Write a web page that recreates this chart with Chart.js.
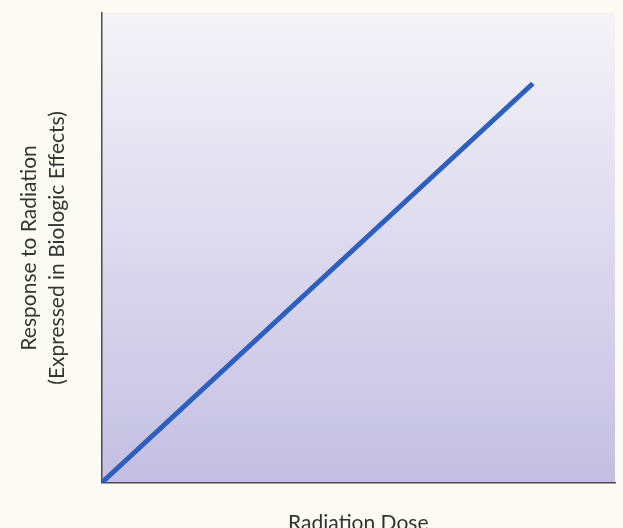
<!DOCTYPE html>
<html lang="en">
<head>
    <meta charset="UTF-8">
    <title>Radiation Dose-Response</title>
    <style>
        html, body {
            margin: 0;
            padding: 0;
            background: #fbfaf3;
            overflow: hidden;
        }
        #wrap {
            width: 623px;
            height: 528px;
            overflow: hidden;
        }
    </style>
</head>
<body>
    <div id="wrap">
        <canvas id="doseChart" width="623" height="540" style="width:623px;height:540px;display:block"></canvas>
    </div>

    <script src="https://cdn.jsdelivr.net/npm/chart.js"></script>
    <script>
        // dose (x) and response (y), in % of the axis range
        const doses = [0, 84];
        const responses = [0, 85];
        const xTitle = "Radiation Dose";
        const yTitle = ["Response to Radiation", "(Expressed in Biologic Effects)"];

        // lavender wash behind the plot area
        const plotShade = {
            id: "plotShade",
            beforeDraw(chart) {
                const { ctx, chartArea: a } = chart;
                const g = ctx.createLinearGradient(0, a.top, 0, a.bottom);
                g.addColorStop(0, "#f4f3f7");
                g.addColorStop(0.5, "#dcd9ee");
                g.addColorStop(1, "#c4bfe2");
                ctx.save();
                ctx.fillStyle = g;
                ctx.fillRect(a.left, a.top, a.right - a.left, a.bottom - a.top);
                ctx.restore();
            }
        };

        const fontFamily = "Lato, 'Noto Sans', sans-serif";

        new Chart(document.getElementById("doseChart"), {
            type: "line",
            data: {
                datasets: [{
                    data: doses.map((d, i) => ({ x: d, y: responses[i] })),
                    borderColor: "#2d5fbd",
                    borderWidth: 5,
                    pointRadius: 0,
                    tension: 0
                }]
            },
            options: {
                responsive: false,
                animation: false,
                layout: { padding: { top: 13, right: 8, left: 16, bottom: 4 } },
                plugins: { legend: { display: false }, tooltip: { enabled: false } },
                scales: {
                    x: {
                        type: "linear",
                        min: 0,
                        max: 100,
                        ticks: { display: false },
                        grid: { display: false },
                        border: { display: true, color: "#4a4a50", width: 1.5 },
                        title: {
                            display: true,
                            text: xTitle,
                            color: "#333",
                            font: { family: fontFamily, size: 21, lineHeight: 1.2 },
                            padding: { top: 20, bottom: 0 }
                        }
                    },
                    y: {
                        type: "linear",
                        min: 0,
                        max: 100,
                        ticks: { display: false },
                        grid: { display: false },
                        border: { display: true, color: "#4a4a50", width: 1.5 },
                        title: {
                            display: true,
                            text: yTitle,
                            color: "#333",
                            font: { family: fontFamily, size: 21, lineHeight: 1.3 },
                            padding: { top: 0, bottom: 23 }
                        }
                    }
                }
            },
            plugins: [plotShade]
        });
    </script>
</body>
</html>
